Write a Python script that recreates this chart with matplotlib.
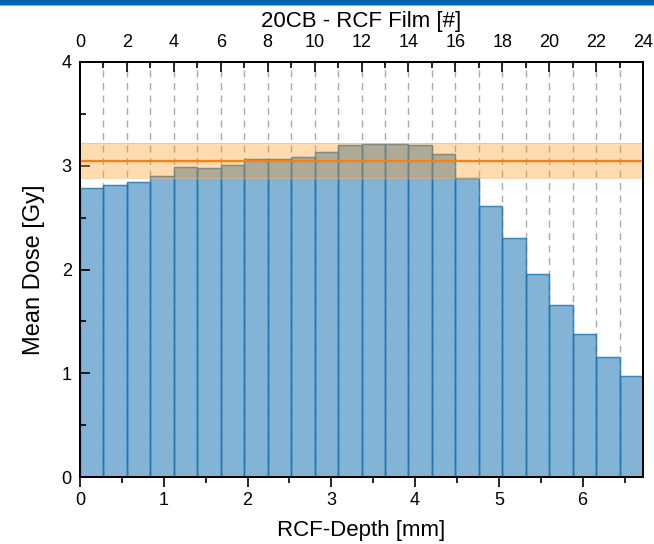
import matplotlib
matplotlib.use("Agg")
import matplotlib.pyplot as plt
import numpy as np
from matplotlib.patches import Rectangle
from matplotlib.ticker import MultipleLocator

plt.rcParams['font.family'] = ['Liberation Sans', 'DejaVu Sans']

film_thickness_mm = 0.28
n_films = 24
dose = [2.79, 2.81, 2.84, 2.90, 2.985, 2.98, 3.01, 3.065, 3.068, 3.087, 3.135, 3.20,
        3.207, 3.207, 3.197, 3.113, 2.885, 2.615, 2.30, 1.96, 1.658, 1.381, 1.154, 0.973]
mean_dose = 3.05
band_low = 2.885
band_high = 3.215

fig = plt.figure(figsize=(6.54, 5.44), dpi=100)
ax = fig.add_axes([80/654, 67/544, 563/654, 415/544])

# top blue strip
fig.patches.append(Rectangle((0, 1 - 5/544), 1, 5/544, transform=fig.transFigure,
                             facecolor='#0064B4', edgecolor='none'))
fig.patches.append(Rectangle((0, 1 - 6/544), 1, 1/544, transform=fig.transFigure,
                             facecolor='#7FB1DA', edgecolor='none'))

films = np.arange(n_films)
left_edges = films * film_thickness_mm

for f in range(1, n_films):
    ax.axvline(f * film_thickness_mm, color='#AAAAAA', ls=(0, (5, 4)), lw=1.0, zorder=0)

ax.bar(left_edges, dose, width=film_thickness_mm, align='edge',
       color='#1f77b4', alpha=0.55, edgecolor='#1f77b4', linewidth=1.0, zorder=1)
ax.bar(left_edges, dose, width=film_thickness_mm, align='edge',
       color='none', edgecolor='#1f77b4', linewidth=1.0, alpha=0.6, zorder=1.5)

ax.axhspan(band_low, band_high, color='#FF9A1E', alpha=0.35, lw=0, zorder=2)
ax.axhline(band_low, color='#FFB060', lw=0.6, alpha=0.6, zorder=2)
ax.axhline(band_high, color='#FFB060', lw=0.6, alpha=0.6, zorder=2)
ax.axhline(mean_dose, color='#FF7F0E', lw=1.6, zorder=3)

ax.set_xlim(0, n_films * film_thickness_mm)
ax.set_ylim(0, 4)
ax.xaxis.set_major_locator(MultipleLocator(1))
ax.xaxis.set_minor_locator(MultipleLocator(0.5))
ax.yaxis.set_major_locator(MultipleLocator(1))
ax.yaxis.set_minor_locator(MultipleLocator(0.5))
ax.tick_params(axis='x', which='major', direction='out', length=7, width=1.2, labelsize=13, pad=4)
ax.tick_params(axis='x', which='minor', direction='out', length=4, width=1.2)
ax.tick_params(axis='y', which='major', direction='in', length=7, width=1.2, labelsize=13, pad=6)
ax.tick_params(axis='y', which='minor', direction='in', length=4, width=1.2)
for s in ax.spines.values():
    s.set_linewidth(1.3)
ax.set_xlabel('RCF-Depth [mm]', fontsize=16, labelpad=8)
ax.set_ylabel('Mean Dose [Gy]', fontsize=17, labelpad=12)

ax2 = ax.twiny()
ax2.set_xlim(0, n_films)
ax2.xaxis.set_major_locator(MultipleLocator(2))
ax2.xaxis.set_minor_locator(MultipleLocator(1))
ax2.tick_params(axis='x', which='major', direction='in', length=7, width=1.2, labelsize=13, pad=8)
ax2.tick_params(axis='x', which='minor', direction='in', length=4, width=1.2)
ax2.set_xlabel('20CB - RCF Film [#]', fontsize=16, labelpad=5)
for s in ax2.spines.values():
    s.set_linewidth(1.3)

fig.savefig('out.png', dpi=100)
